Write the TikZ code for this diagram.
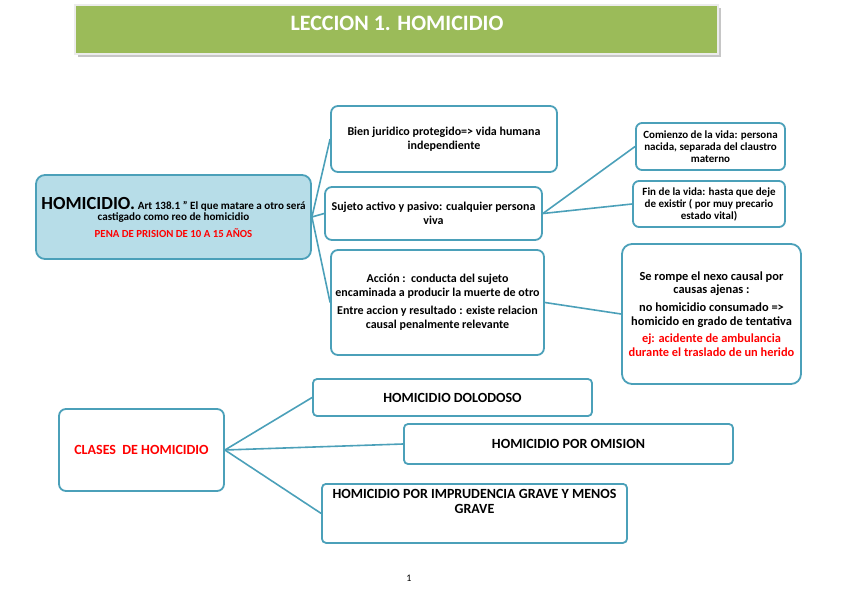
\documentclass[tikz,border=0pt]{standalone}
\usepackage{fontspec}
\setmainfont{Carlito}
\usepackage{tikz}
\usetikzlibrary{positioning}

\definecolor{tealline}{RGB}{75,160,185}
\definecolor{paleblue}{RGB}{183,221,232}
\definecolor{titlegreen}{RGB}{155,187,89}
\definecolor{alertred}{RGB}{255,0,0}

\begin{document}
\begin{tikzpicture}[x=1pt, y=-1pt,
  card/.style={draw=tealline, line width=1.8pt, fill=white, rounded corners=7pt,
    align=center, inner sep=1pt, font=\bfseries\fontsize{12}{14.5}\selectfont},
  smallcard/.style={card, rounded corners=6pt, font=\bfseries\fontsize{11}{12}\selectfont},
  classcard/.style={card, rounded corners=4pt, font=\bfseries\fontsize{14}{15}\selectfont},
  maincard/.style={card, fill=paleblue, rounded corners=9pt},
  link/.style={draw=tealline, line width=1.6pt}
]
\useasboundingbox (0,0) rectangle (848,599);

% --------- TITLE ----------
\fill[gray!45] (78,8) rectangle (721,57);
\node[fill=titlegreen, draw=gray!15, line width=1.5pt, minimum width=643pt, minimum height=49pt,
  inner sep=0pt] (title) at (396.5,29.5) {};
\node[text=white, font=\bfseries\fontsize{22}{24}\selectfont] (titletext) at (397,23) {LECCION 1. HOMICIDIO};

% --------- HOMICIDIO TREE ----------
\node[maincard, minimum width=275pt, minimum height=84pt] (hom) at (173.5,217)
  {{\fontsize{18.5}{16}\selectfont HOMICIDIO.} {\fontsize{11.1}{12}\selectfont Art 138.1 " El que matare a otro será}\\[-3pt]
   {\fontsize{11.1}{12}\selectfont castigado como reo de homicidio}\\[2pt]
   {\color{alertred}\fontsize{10.8}{12}\selectfont PENA DE PRISION DE 10 A 15 AÑOS}};

\node[card, minimum width=226pt, minimum height=66pt] (bien) at (444,139)
  {Bien juridico protegido=> vida humana\\independiente};
\node[card, minimum width=217pt, minimum height=53pt] (sujeto) at (433.5,213.5)
  {Sujeto activo y pasivo: cualquier persona\\viva};
\node[card, minimum width=213pt, minimum height=105pt, font=\bfseries\fontsize{12}{14}\selectfont] (accion) at (437.5,302.5)
  {Acción :\ \ conducta del sujeto\\encaminada a producir la muerte de otro\\[4pt]
   Entre accion y resultado : existe relacion\\causal penalmente relevante};

\node[smallcard, minimum width=149pt, minimum height=47pt] (comienzo) at (710.5,146.5)
  {Comienzo de la vida: persona\\nacida, separada del claustro\\materno};
\node[smallcard, minimum width=152pt, minimum height=46pt] (fin) at (709,204)
  {Fin de la vida: hasta que deje\\de existir ( por muy precario\\estado vital)};
\node[card, rounded corners=10pt, minimum width=179pt, minimum height=140pt,
  font=\bfseries\fontsize{12.4}{13.6}\selectfont] (rompe) at (711.5,314)
  {Se rompe el nexo causal por\\causas ajenas :\\[4pt]
   no homicidio consumado =>\\homicido en grado de tentativa\\[4pt]
   {\color{alertred}ej: acidente de ambulancia}\\{\color{alertred}durante el traslado de un herido}};

\draw[link] (hom.east) -- (bien.west);
\draw[link] (hom.east) -- (sujeto.west);
\draw[link] (hom.east) -- (accion.west);
\draw[link] (sujeto.east) -- (comienzo.west);
\draw[link] (sujeto.east) -- (fin.west);
\draw[link] (accion.east) -- (rompe.west);

% --------- CLASES ----------
\node[classcard, rounded corners=7pt, minimum width=165pt, minimum height=82pt] (clases) at (141.5,450)
  {\color{alertred}CLASES\ \ DE HOMICIDIO};
\node[classcard, minimum width=279pt, minimum height=37pt] (doloso) at (452.5,397.5)
  {HOMICIDIO DOLODOSO};
\node[classcard, minimum width=329pt, minimum height=40pt] (omision) at (568.5,444)
  {HOMICIDIO POR OMISION};
\node[classcard, minimum width=305pt, minimum height=59pt, anchor=north,
  text depth=24pt, inner sep=3pt] (imprudencia) at (474.5,483)
  {HOMICIDIO POR IMPRUDENCIA GRAVE Y MENOS\\GRAVE};

\draw[link] (clases.east) -- (doloso.west);
\draw[link] (clases.east) -- (omision.west);
\draw[link] (clases.east) -- (imprudencia.west);

% page number
\node[font=\fontsize{10}{12}\selectfont] (pagenum) at (409,578) {1};

\end{tikzpicture}
\end{document}
